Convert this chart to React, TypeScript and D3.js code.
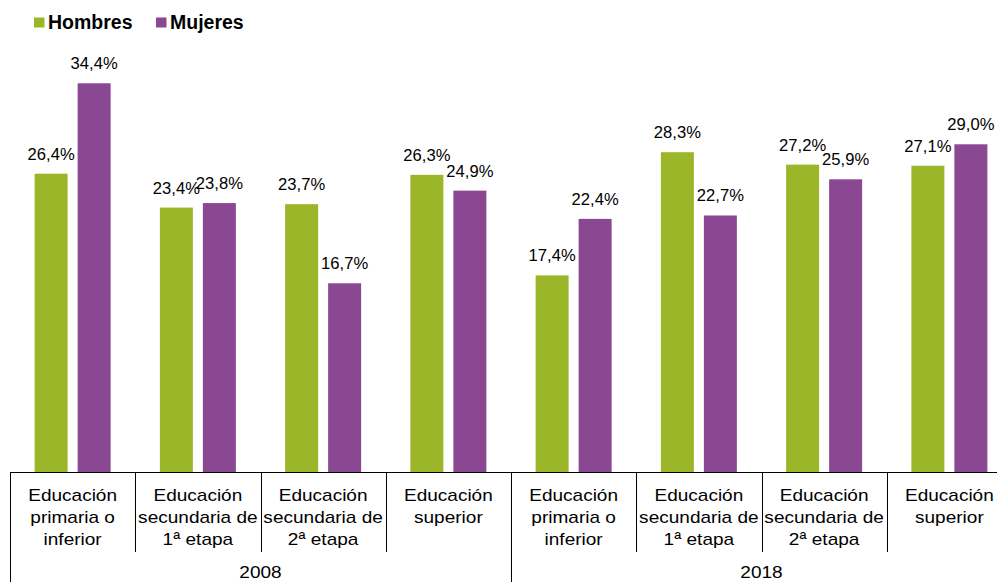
import React from "react";
import * as d3 from "d3";

const years = ["2008", "2018"];
const levels = [
  ["Educación", "primaria o", "inferior"],
  ["Educación", "secundaria de", "1ª etapa"],
  ["Educación", "secundaria de", "2ª etapa"],
  ["Educación", "superior"],
];
const series = ["Hombres", "Mujeres"];
const hombres = [26.4, 23.4, 23.7, 26.3, 17.4, 28.3, 27.2, 27.1];
const mujeres = [34.4, 23.8, 16.7, 24.9, 22.4, 22.7, 25.9, 29.0];
const colors = ["#9BB628", "#8A4892"];

const W = 997;
const H = 582;

export default function App() {
  const cats = d3.range(years.length * levels.length);
  const x = d3.scaleBand<number>().domain(cats).range([10, 1012]).padding(0);
  const inner = d3
    .scaleBand<string>()
    .domain(series)
    .range([0, 76])
    .paddingInner(10 / 43)
    .paddingOuter(0);
  const y = d3.scaleLinear().domain([0, 40]).range([472, 20]);
  const axisY = 472.5;
  const fmt = (v: number) => v.toFixed(1).replace(".", ",") + "%";
  const data = [hombres, mujeres];

  return (
    <svg
      width={W}
      height={H}
      style={{ position: "absolute", left: 0, top: 0, background: "#fff" }}
      fontFamily="'Liberation Sans', Arial, sans-serif"
    >
      {/* legend */}
      {series.map((s, i) => {
        const lx = i === 0 ? 34 : 156;
        return (
          <g key={s}>
            <rect x={lx} y={17.5} width={10.5} height={10} fill={colors[i]} />
            <text x={lx + 14} y={29} fontSize={19.5} fontWeight="bold" fill="#000">
              {s}
            </text>
          </g>
        );
      })}

      {/* bars */}
      {cats.map((c) => {
        const cx = (x(c) as number) + x.bandwidth() / 2;
        return (
          <g key={c}>
            {series.map((s, si) => {
              const v = data[si][c];
              const bx = cx - 38 + (inner(s) as number);
              return (
                <g key={s}>
                  <rect
                    x={bx}
                    y={y(v)}
                    width={inner.bandwidth()}
                    height={472 - y(v)}
                    fill={colors[si]}
                  />
                  <text
                    x={bx + inner.bandwidth() / 2}
                    y={y(v) - 14}
                    fontSize={16.6}
                    textAnchor="middle"
                    fill="#000"
                  >
                    {fmt(v)}
                  </text>
                </g>
              );
            })}
          </g>
        );
      })}

      {/* axis line */}
      <line x1={10} x2={W} y1={axisY} y2={axisY} stroke="#000" strokeWidth={1} />

      {/* category tick lines */}
      {cats.map((c) => {
        const bx = Math.round(x(c) as number) + 0.5;
        const isYear = c % levels.length === 0;
        return (
          <line
            key={"t" + c}
            x1={bx}
            x2={bx}
            y1={axisY}
            y2={isYear ? H : 552}
            stroke="#000"
            strokeWidth={1}
          />
        );
      })}

      {/* category labels */}
      {cats.map((c) => {
        const cx = (x(c) as number) + x.bandwidth() / 2;
        const lines = levels[c % levels.length];
        return (
          <g key={"l" + c} transform={`translate(${cx},0) scale(1.12,1)`}>
            {lines.map((ln, li) => (
              <text
                key={li}
                x={0}
                y={501 + li * 22}
                fontSize={17}
                textAnchor="middle"
                fill="#000"
              >
                {ln}
              </text>
            ))}
          </g>
        );
      })}

      {/* year labels */}
      {years.map((yr, yi) => {
        const start = x(yi * levels.length) as number;
        const cx = start + (x.bandwidth() * levels.length) / 2;
        return (
          <g key={yr} transform={`translate(${cx},0) scale(1.12,1)`}>
            <text x={0} y={578} fontSize={17} textAnchor="middle" fill="#000">
              {yr}
            </text>
          </g>
        );
      })}
    </svg>
  );
}
